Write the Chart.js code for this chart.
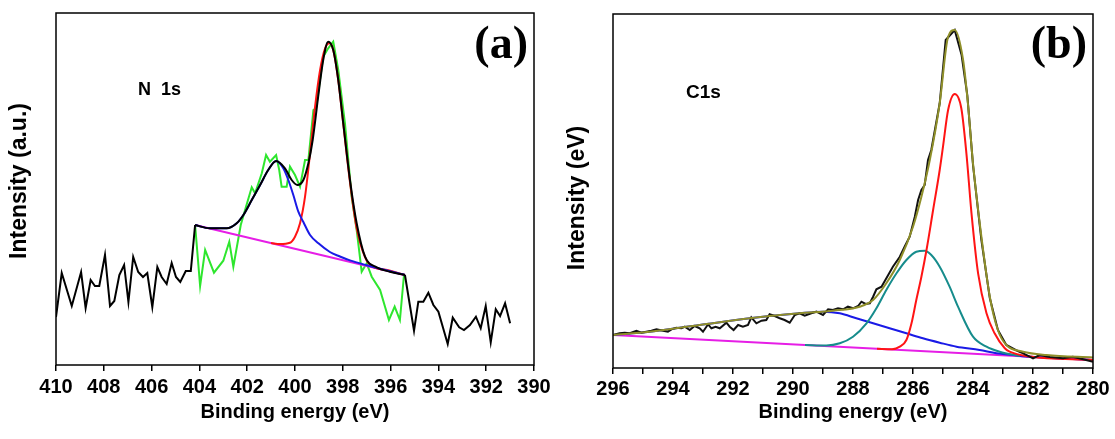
<!DOCTYPE html>
<html>
<head>
<meta charset="utf-8">
<script src="https://cdn.jsdelivr.net/npm/chart.js@4.4.1/dist/chart.umd.min.js"></script>
<style>
  html, body { margin: 0; padding: 0; background: #fff; }
  #wrap { position: relative; width: 1115px; height: 439px; overflow: hidden; }
  canvas { position: absolute; top: 0; }
  #chartA { left: 0; }
  #chartB { left: 556px; }
</style>
</head>
<body>
<div id="wrap">
  <canvas id="chartA" width="556" height="439"></canvas>
  <canvas id="chartB" width="559" height="439"></canvas>
</div>
<script>
// ---- (a) N 1s : binding energy (eV) / intensity (a.u.) ----
const nLeftE  = [410.00, 409.76, 409.34, 408.95, 408.76, 408.55, 408.37, 408.19, 407.95, 407.74, 407.56, 407.35, 407.15, 406.97, 406.77, 406.56, 406.36, 406.18, 405.97, 405.76, 405.58, 405.37, 405.16, 404.98, 404.80, 404.57, 404.36, 404.18];
const nLeftI  = [48, 92, 59, 93, 57, 85, 79, 79, 110, 59, 64, 90, 100, 63, 108, 93, 88, 92, 58, 98, 88, 81, 102, 88, 83, 94, 94, 140];
const nRightE = [395.40, 395.02, 394.84, 394.63, 394.42, 394.21, 394.00, 393.61, 393.40, 393.13, 392.93, 392.68, 392.43, 392.23, 392.02, 391.81, 391.60, 391.42, 391.21, 391.00];
const nRightI = [90, 34.3, 63.3, 63.3, 72.3, 60, 53.3, 21, 47.3, 37.7, 35, 40, 48.3, 36.7, 59, 22.7, 55.7, 49, 61.7, 41.7];
const nRawE   = [404.18, 403.97, 403.76, 403.39, 403.00, 402.75, 402.58, 402.27, 402.05, 401.81, 401.67, 401.39, 401.21, 401.05, 400.79, 400.66, 400.56, 400.35, 400.21, 400.00, 399.79, 399.58, 399.44, 399.23, 399.12, 398.82, 398.61, 398.40, 398.19, 397.91, 397.63, 397.42, 397.21, 397.00, 396.79, 396.44, 396.07, 395.83, 395.61, 395.44];
const nRawI   = [140, 79, 115, 92.3, 104.3, 123.3, 98.3, 140, 158.3, 177.7, 171.7, 191.7, 210, 203.3, 210, 195, 178.3, 178.3, 198.3, 190, 178.3, 205, 205, 255, 256.7, 308.3, 316.7, 323.3, 295, 241.7, 168.3, 135, 93.3, 101.7, 88.3, 75, 45, 58.3, 45, 90];
const nFitE   = [404.18, 403.56, 402.86, 402.44, 402.16, 401.81, 401.46, 401.12, 400.79, 400.42, 400.14, 399.90, 399.65, 399.44, 399.26, 399.03, 398.82, 398.61, 398.40, 398.19, 397.98, 397.70, 397.42, 397.07, 396.58, 396.03, 395.40];
const nFitI   = [140, 136.7, 136.7, 141.7, 150, 165, 180, 195, 204, 196.7, 185, 180, 185, 201.7, 225, 268.3, 305, 323.3, 315, 285, 241.7, 185, 141.7, 108.3, 97.7, 93.3, 90];
const nRedE   = [401.00, 400.63, 400.21, 400.00, 399.79, 399.58, 399.37, 399.16, 398.95, 398.74, 398.56, 398.40, 398.19, 397.98, 397.70, 397.42, 397.07, 396.78, 396.20, 395.40];
const nRedI   = [122, 121, 122.3, 128.3, 141.7, 168.3, 211.7, 258.3, 295, 316.7, 321.7, 315, 285, 241, 183, 137, 107.8, 98.5, 95.2, 90];
const nBlueE  = [404.18, 403.56, 402.86, 402.44, 402.16, 401.81, 401.46, 401.12, 400.79, 400.49, 400.28, 400.07, 399.86, 399.65, 399.37, 399.02, 398.54, 398.12, 397.70, 397.00, 395.40];
const nBlueI  = [140, 136.7, 136.7, 141.7, 150, 165, 180, 195, 204, 196.7, 185, 170, 153.3, 143, 130, 121.7, 113, 108.5, 104.6, 99.8, 90];
const nBaseE  = [404.18, 395.40];
const nBaseI  = [140, 90];

// ---- (b) C1s ----
const cRawE = [296.00, 295.78, 295.61, 295.44, 295.22, 295.05, 294.89, 294.72, 294.55, 294.33,
               294.17, 294.05, 293.89, 293.72, 293.61, 293.44, 293.28, 293.11, 293.00, 292.83,
               292.72, 292.58, 292.44, 292.22, 292.11, 291.98, 291.83, 291.67, 291.50, 291.39,
               291.22, 291.05, 290.89, 290.78, 290.61, 290.44, 290.28, 290.11, 289.94, 289.78,
               289.61, 289.39, 289.22, 289.00, 288.83, 288.67, 288.50, 288.33, 288.17, 288.00,
               287.83, 287.72, 287.58, 287.44, 287.33, 287.22, 287.05, 286.67, 286.44, 286.28,
               286.11, 285.94, 285.83, 285.72, 285.61, 285.50, 285.39, 285.11, 284.91, 284.61,
               284.38, 284.19, 284.00, 283.72, 283.44, 283.17, 282.89, 282.58, 282.33, 282.11,
               282.00, 281.78, 281.44, 281.00, 280.67, 280.33, 280.00];
const cRawI = [33, 34.7, 35.3, 34.7, 37.3, 35.3, 36.3, 37.3, 38.7, 37.3,
               36.3, 38.7, 40.3, 39.7, 41.3, 38, 42, 39.7, 36.3, 43.7,
               39.7, 41.3, 39.7, 45.3, 41.3, 38, 43, 41.3, 43, 50.7,
               44.7, 47.3, 48, 53.7, 52, 49.7, 48, 45.3, 53, 54.7,
               52.3, 54.7, 56.3, 53, 58.7, 58, 59.7, 58.7, 61.3, 59.7,
               62, 66.3, 64, 64.7, 71.3, 78.7, 81.3, 101.3, 111.3, 121.3,
               131.3, 151.3, 168, 178, 183, 208, 218, 264.7, 328, 338,
               313, 273, 203, 128, 70, 38, 23, 18, 14.7, 11.3,
               9.7, 13, 11, 9.7, 11.3, 8.7, 6.3];
const cFitE  = [296.00, 294.78, 293.11, 291.44, 289.78, 288.67, 287.78, 287.33, 286.89, 286.44, 286.00, 285.72, 285.44, 285.11, 284.83, 284.61, 284.33, 284.17, 284.00, 283.72, 283.44, 283.17, 282.89, 282.33, 281.55, 280.00];
const cFitI  = [33, 36.3, 43, 49.7, 54.7, 57.3, 61.3, 68, 84.7, 108, 141.3, 171.3, 208, 264.7, 331.3, 338, 308, 264.7, 204.7, 131.3, 71.3, 38, 23, 16.3, 13, 10.5];
const cRedE  = [287.20, 286.70, 286.44, 286.22, 286.05, 285.89, 285.72, 285.55, 285.33, 285.11, 285.00, 284.83, 284.61, 284.39, 284.22, 284.05, 283.83, 283.55, 283.28, 282.94, 282.78, 282.11, 280.00];
const cRedI  = [19.3, 18.8, 21.3, 28, 44.7, 68, 91.3, 118, 158, 198, 221.3, 258, 274, 259.7, 214.7, 154.7, 94.7, 54.7, 34.7, 19.7, 16.3, 11.5, 8];
const cTealE = [289.60, 288.89, 288.44, 288.00, 287.55, 287.22, 286.89, 286.55, 286.22, 285.89, 285.61, 285.39, 285.11, 284.78, 284.50, 284.00, 283.55, 283.11, 282.44];
const cTealI = [23, 22.5, 24.7, 31.3, 44.7, 59.7, 78, 94.7, 108, 116.3, 117.3, 113, 101.3, 81.3, 61.3, 31.3, 21.3, 16.3, 12];
const cBlueE = [296.00, 294.78, 293.11, 291.44, 289.78, 289.00, 288.44, 287.89, 287.33, 286.78, 286.22, 285.67, 285.11, 284.55, 283.78, 283.22, 282.67, 282.11, 280.00];
const cBlueI = [33, 36.3, 43, 49.7, 54.7, 56.3, 54.7, 49.7, 44.7, 39.7, 34.7, 29.7, 25.3, 21.3, 18, 14.7, 13, 11.2, 8];
const cBaseE = [296.00, 280.00];
const cBaseI = [33, 8];

const SANS = 'Arial, "Liberation Sans", sans-serif';
const SERIF = '"Times New Roman", "Liberation Serif", serif';
Chart.defaults.font.family = SANS;
Chart.defaults.color = '#000';

function pts(xs, ys) {
    return xs.map((x, i) => ({ x: x, y: ys[i] }));
}

// línea de datos; el primer dataset queda dibujado encima
function serie(xs, ys, color, smooth) {
    return {
        data: pts(xs, ys),
        borderColor: color,
        borderWidth: 2,
        pointRadius: 0,
        fill: false,
        tension: 0,
        cubicInterpolationMode: smooth ? 'monotone' : 'default'
    };
}

// marco, título del eje Y y rótulos dentro del gráfico
const framePlugin = {
    id: 'frame',
    afterDraw(chart, args, opts) {
        const { ctx, chartArea: a } = chart;
        ctx.save();
        ctx.strokeStyle = '#000';
        ctx.lineWidth = 1.5;
        ctx.strokeRect(a.left, a.top, a.right - a.left, a.bottom - a.top);

        // título vertical
        ctx.save();
        ctx.translate(opts.yTitleX, opts.yTitleY);
        ctx.rotate(-Math.PI / 2);
        ctx.font = 'bold 23px ' + SANS;
        ctx.fillStyle = '#000';
        ctx.textAlign = 'center';
        ctx.textBaseline = 'middle';
        ctx.fillText(opts.yTitle, 0, 0);
        ctx.restore();

        (opts.texts || []).forEach(t => {
            ctx.font = t.font;
            ctx.fillStyle = '#000';
            ctx.textAlign = t.align;
            ctx.textBaseline = 'alphabetic';
            if ('wordSpacing' in ctx) ctx.wordSpacing = (t.gap || 0) + 'px';
            ctx.fillText(t.text, t.x, t.y);
            if ('wordSpacing' in ctx) ctx.wordSpacing = '0px';
        });
        ctx.restore();
    }
};

function opciones(p) {
    return {
        responsive: false,
        animation: false,
        layout: { padding: { top: p.top, right: p.right, left: 0, bottom: 0 } },
        plugins: {
            legend: { display: false },
            tooltip: { enabled: false },
            frame: { texts: p.texts, yTitle: p.yTitle, yTitleX: p.yTitleX, yTitleY: p.yTitleY }
        },
        scales: {
            x: {
                type: 'linear',
                reverse: true,
                min: p.xMin,
                max: p.xMax,
                afterFit: s => { s.height = p.xHeight; },
                ticks: {
                    stepSize: p.step,
                    autoSkip: false,
                    maxRotation: 0,
                    padding: p.tickPad,
                    color: '#000',
                    font: { size: 20, weight: 'bold' },
                    callback: v => (Math.round(v) % 2 === 0 ? String(Math.round(v)) : '')
                },
                grid: { drawOnChartArea: false, drawTicks: true, tickLength: 6, color: '#000', lineWidth: 1.5 },
                border: { display: false },
                title: {
                    display: true,
                    text: 'Binding energy (eV)',
                    color: '#000',
                    font: { size: 20, weight: 'bold' },
                    padding: { top: 0, bottom: 15 }
                }
            },
            y: {
                type: 'linear',
                min: 0,
                max: p.yMax,
                afterFit: s => { s.width = p.yWidth; },
                ticks: { display: false },
                grid: { display: false },
                border: { display: false }
            }
        }
    };
}

new Chart(document.getElementById('chartA'), {
    type: 'line',
    data: {
        datasets: [
            serie(nFitE, nFitI, '#000000', true),
            serie(nLeftE, nLeftI, '#000000', false),
            serie(nRightE, nRightI, '#000000', false),
            serie(nBlueE, nBlueI, '#1a1ae6', true),
            serie(nRedE, nRedI, '#ff1414', true),
            serie(nBaseE, nBaseI, '#e61ee6', false),
            serie(nRawE, nRawI, '#2ee62e', false)
        ]
    },
    options: opciones({
        top: 13, right: 22, xHeight: 74, yWidth: 56, tickPad: 4,
        xMin: 390, xMax: 410, step: 2, yMax: 352,
        yTitle: 'Intensity (a.u.)', yTitleX: 20, yTitleY: 181,
        texts: [
            { text: 'N 1s', x: 138, y: 95, align: 'left', gap: 5, font: 'bold 18px ' + SANS },
            { text: '(a)', x: 528, y: 58, align: 'right', font: 'bold 46px ' + SERIF }
        ]
    }),
    plugins: [framePlugin]
});

new Chart(document.getElementById('chartB'), {
    type: 'line',
    data: {
        datasets: [
            serie(cFitE, cFitI, '#8f8f2a', true),
            serie(cRawE, cRawI, '#111111', false),
            serie(cRedE, cRedI, '#ff1414', true),
            serie(cTealE, cTealI, '#168c8c', true),
            serie(cBlueE, cBlueI, '#1a1ae6', true),
            serie(cBaseE, cBaseI, '#e61ee6', false)
        ]
    },
    options: opciones({
        top: 14, right: 22, xHeight: 71, yWidth: 57, tickPad: 3,
        xMin: 280, xMax: 296, step: 1, yMax: 354,
        yTitle: 'Intensity (eV)', yTitleX: 22, yTitleY: 198,
        texts: [
            { text: 'C1s', x: 130, y: 98, align: 'left', font: 'bold 19px ' + SANS },
            { text: '(b)', x: 531, y: 58, align: 'right', font: 'bold 46px ' + SERIF }
        ]
    }),
    plugins: [framePlugin]
});
</script>
</body>
</html>
